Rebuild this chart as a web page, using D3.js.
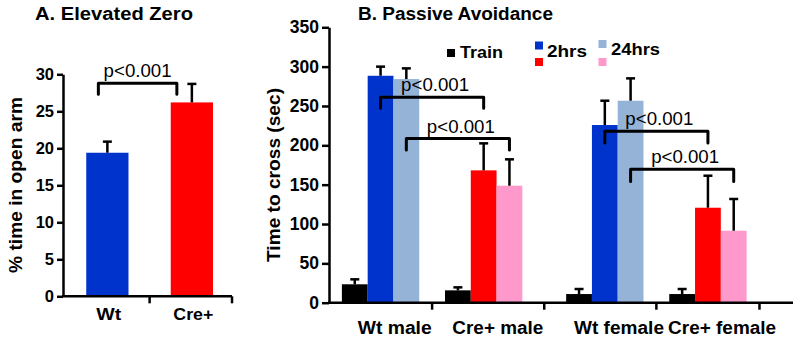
<!DOCTYPE html>
<html lang="en">
<meta charset="utf-8">
<script src="https://d3js.org/d3.v7.min.js"></script>
<head>
    <style type="text/css">
        body { margin: 0; background: white; }
        text { font-family: "Liberation Sans", Arial, sans-serif; fill: black; }
        .tick text { font-weight: bold; }
        .domain, .tick line { stroke: black; stroke-width: 2.5; }
    </style>
</head>
<body>
    <div id="my_dataviz"></div>
    <script>
        // ---- panel A data
        const catsA = ["Wt", "Cre+"];
        const valsA = [19.4, 26.2];
        const errA = [1.5, 2.5];
        const ticksA = [0, 5, 10, 15, 20, 25, 30];
        const colorsA = ["#0033cc", "#ff0000"];

        // ---- panel B data
        const groupsB = ["Wt male", "Cre+ male", "Wt female", "Cre+ female"];
        const trainVals = [23.4, 15.7, 11, 11];
        const trainErr = [6.3, 3.8, 6.4, 6.4];
        const hrs2Vals = [288.4, 168.2, 225.8, 120.7];
        const hrs2Err = [11.6, 34.3, 30.9, 40.7];
        const hrs24Vals = [284.2, 148.7, 256.7, 91.5];
        const hrs24Err = [13.6, 33.5, 28.4, 40.3];
        const ticksB = [0, 50, 100, 150, 200, 250, 300, 350];
        // colour per group for each series (Wt blue, Cre+ red)
        const colors2hrs = ["#0033cc", "#ff0000", "#0033cc", "#ff0000"];
        const colors24hrs = ["#95b3d7", "#ff99cc", "#95b3d7", "#ff99cc"];
        const legendLabels = ["Train", "2hrs", "24hrs"];

        // significance brackets, panel B: [group, series] -> [group, series]
        const bracketFrom = [[0, 1], [0, 2], [2, 1], [2, 2]];
        const bracketTo = [[1, 1], [1, 2], [3, 1], [3, 2]];
        const bracketTop = [261, 208.6, 218, 169.5];
        const bracketLeg = [247, 194, 203, 154];
        const pLabel = "p<0.001";

        const svg = d3.select("#my_dataviz")
            .append("svg")
            .attr("width", 800)
            .attr("height", 340);

        function label(g, str, x, y, size, len, opts = {}) {
            const t = g.append("text")
                .attr("x", x)
                .attr("y", y)
                .attr("font-size", size)
                .attr("font-weight", opts.weight || "bold")
                .attr("text-anchor", opts.anchor || "middle")
                .text(str);
            if (len) t.attr("textLength", len).attr("lengthAdjust", "spacingAndGlyphs");
            if (opts.rotate) t.attr("transform", `rotate(-90, ${x}, ${y})`);
            return t;
        }

        function errBar(g, cx, yTop, yEnd) {
            g.append("line").attr("x1", cx).attr("x2", cx).attr("y1", yTop).attr("y2", yEnd)
                .attr("stroke", "black").attr("stroke-width", 2.5);
            g.append("line").attr("x1", cx - 4.5).attr("x2", cx + 4.5).attr("y1", yEnd).attr("y2", yEnd)
                .attr("stroke", "black").attr("stroke-width", 2.5);
        }

        function bracket(g, x1, x2, yTop, yLeg) {
            g.append("path")
                .attr("d", `M${x1},${yLeg}V${yTop}H${x2}V${yLeg}`)
                .attr("fill", "none")
                .attr("stroke", "black")
                .attr("stroke-width", 3)
                .attr("stroke-linejoin", "round")
                .attr("stroke-linecap", "round");
        }

        // ================= Panel A =================
        const gA = svg.append("g");
        const yA = d3.scaleLinear().domain([0, 30]).range([296.3, 74.3]);
        const xA = d3.scaleBand().domain(catsA).range([63, 232])
            .paddingInner(0.5).paddingOuter(0.25).align(0.55);

        label(gA, "A. Elevated Zero", 35, 20, 18, 158, { anchor: "start", weight: 600 });

        gA.selectAll("rect.bar")
            .data(catsA)
            .join("rect")
            .attr("class", "bar")
            .attr("x", d => xA(d))
            .attr("y", (d, i) => yA(valsA[i]))
            .attr("width", xA.bandwidth())
            .attr("height", (d, i) => yA(0) - yA(valsA[i]))
            .attr("fill", (d, i) => colorsA[i]);

        catsA.forEach((d, i) => {
            const cx = xA(d) + xA.bandwidth() / 2;
            errBar(gA, cx, yA(valsA[i]), yA(valsA[i] + errA[i]));
        });

        gA.append("g")
            .attr("transform", `translate(63,0)`)
            .call(d3.axisLeft(yA).tickValues(ticksA).tickSize(6).tickSizeOuter(0).tickPadding(3))
            .call(g => g.selectAll(".tick text").attr("font-size", 16.5));

        // x axis A
        const stepA = xA.step();
        const xTicksA = [xA(catsA[0]) + xA.bandwidth() + (stepA - xA.bandwidth()) / 2, 232];
        gA.append("line").attr("x1", 62).attr("x2", 232).attr("y1", yA(0)).attr("y2", yA(0))
            .attr("stroke", "black").attr("stroke-width", 2.5);
        xTicksA.forEach(t => {
            gA.append("line").attr("x1", t).attr("x2", t).attr("y1", yA(0)).attr("y2", yA(0) + 7)
                .attr("stroke", "black").attr("stroke-width", 2.5);
        });
        const catLenA = [25, 40];
        catsA.forEach((d, i) => {
            label(gA, d, xA(d) + xA.bandwidth() / 2 + 1.5, 320, 17, catLenA[i]);
        });

        label(gA, "% time in open arm", 22, 185, 18.5, 176, { rotate: true });

        // bracket A
        const axA = xA(catsA[0]) + xA.bandwidth() / 2 - 9;
        const bxA = xA(catsA[1]) + xA.bandwidth() / 2 - 15;
        bracket(gA, axA, bxA, yA(28.8), yA(27.3));
        label(gA, pLabel, (axA + bxA) / 2, yA(28.8) - 6, 18, 68, { weight: "normal" });

        // ================= Panel B =================
        const gB = svg.append("g");
        const yB = d3.scaleLinear().domain([0, 350]).range([302.7, 27.3]);
        const xB = d3.scaleLinear().domain([0, 18]).range([329, 793]);
        const groupStart = i => 0.5 + 4 * i + (i >= 2 ? 0.7 : 0);
        const barCx = (gi, s) => xB(groupStart(gi) + s + 0.5);

        label(gB, "B. Passive Avoidance", 358, 20, 18, 195, { anchor: "start", weight: 600 });

        const series = [
            { vals: trainVals, err: trainErr, color: () => "black" },
            { vals: hrs2Vals, err: hrs2Err, color: i => colors2hrs[i] },
            { vals: hrs24Vals, err: hrs24Err, color: i => colors24hrs[i] }
        ];

        series.forEach((s, si) => {
            gB.selectAll(`rect.s${si}`)
                .data(groupsB)
                .join("rect")
                .attr("class", `s${si}`)
                .attr("x", (d, i) => xB(groupStart(i) + si))
                .attr("y", (d, i) => yB(s.vals[i]))
                .attr("width", xB(1) - xB(0))
                .attr("height", (d, i) => yB(0) - yB(s.vals[i]))
                .attr("fill", (d, i) => s.color(i));
        });
        series.forEach((s, si) => {
            groupsB.forEach((d, i) => {
                errBar(gB, barCx(i, si), yB(s.vals[i]), yB(s.vals[i] + s.err[i]));
            });
        });

        gB.append("g")
            .attr("transform", `translate(329,0)`)
            .call(d3.axisLeft(yB).tickValues(ticksB).tickSize(7).tickSizeOuter(0).tickPadding(3))
            .call(g => g.selectAll(".tick text").attr("font-size", 17.5));

        // x axis B
        gB.append("line").attr("x1", 328).attr("x2", xB(18)).attr("y1", yB(0)).attr("y2", yB(0))
            .attr("stroke", "black").attr("stroke-width", 2.5);
        const xTicksB = groupsB.map((d, i) => i < groupsB.length - 1
            ? (groupStart(i) + 3 + groupStart(i + 1)) / 2
            : groupStart(i) + 3.5);
        xTicksB.forEach(t => {
            gB.append("line").attr("x1", xB(t)).attr("x2", xB(t)).attr("y1", yB(0)).attr("y2", yB(0) + 7)
                .attr("stroke", "black").attr("stroke-width", 2.5);
        });
        const groupLenB = [74, 91, 90, 108];
        groupsB.forEach((d, i) => {
            label(gB, d, xB(groupStart(i) + 2.05), 333.5, 18, groupLenB[i]);
        });

        label(gB, "Time to cross (sec)", 280, 175, 18.5, 174, { rotate: true });

        // brackets
        bracketFrom.forEach((f, k) => {
            const x1 = barCx(f[0], f[1]);
            const x2 = barCx(bracketTo[k][0], bracketTo[k][1]);
            bracket(gB, x1, x2, yB(bracketTop[k]), yB(bracketLeg[k]));
            label(gB, pLabel, (x1 + x2) / 2 + 3, yB(bracketTop[k]) - 6, 18, 68, { weight: "normal" });
        });

        // legend
        const lg = gB.append("g");
        // Train
        lg.append("rect").attr("x", 447).attr("y", 49).attr("width", 8).attr("height", 8).attr("fill", "black");
        label(lg, legendLabels[0], 460, 58, 17, 43, { anchor: "start" });
        // 2hrs
        lg.append("rect").attr("x", 535).attr("y", 41.5).attr("width", 8).attr("height", 8).attr("fill", colors2hrs[0]);
        lg.append("rect").attr("x", 535).attr("y", 58).attr("width", 8).attr("height", 8).attr("fill", colors2hrs[1]);
        label(lg, legendLabels[1], 547, 57, 17, 40, { anchor: "start" });
        // 24hrs
        lg.append("rect").attr("x", 598.5).attr("y", 40).attr("width", 8).attr("height", 8).attr("fill", colors24hrs[0]);
        lg.append("rect").attr("x", 598.5).attr("y", 58).attr("width", 8).attr("height", 8).attr("fill", colors24hrs[1]);
        label(lg, legendLabels[2], 611, 55, 17, 49, { anchor: "start" });
    </script>
</body>
</html>
